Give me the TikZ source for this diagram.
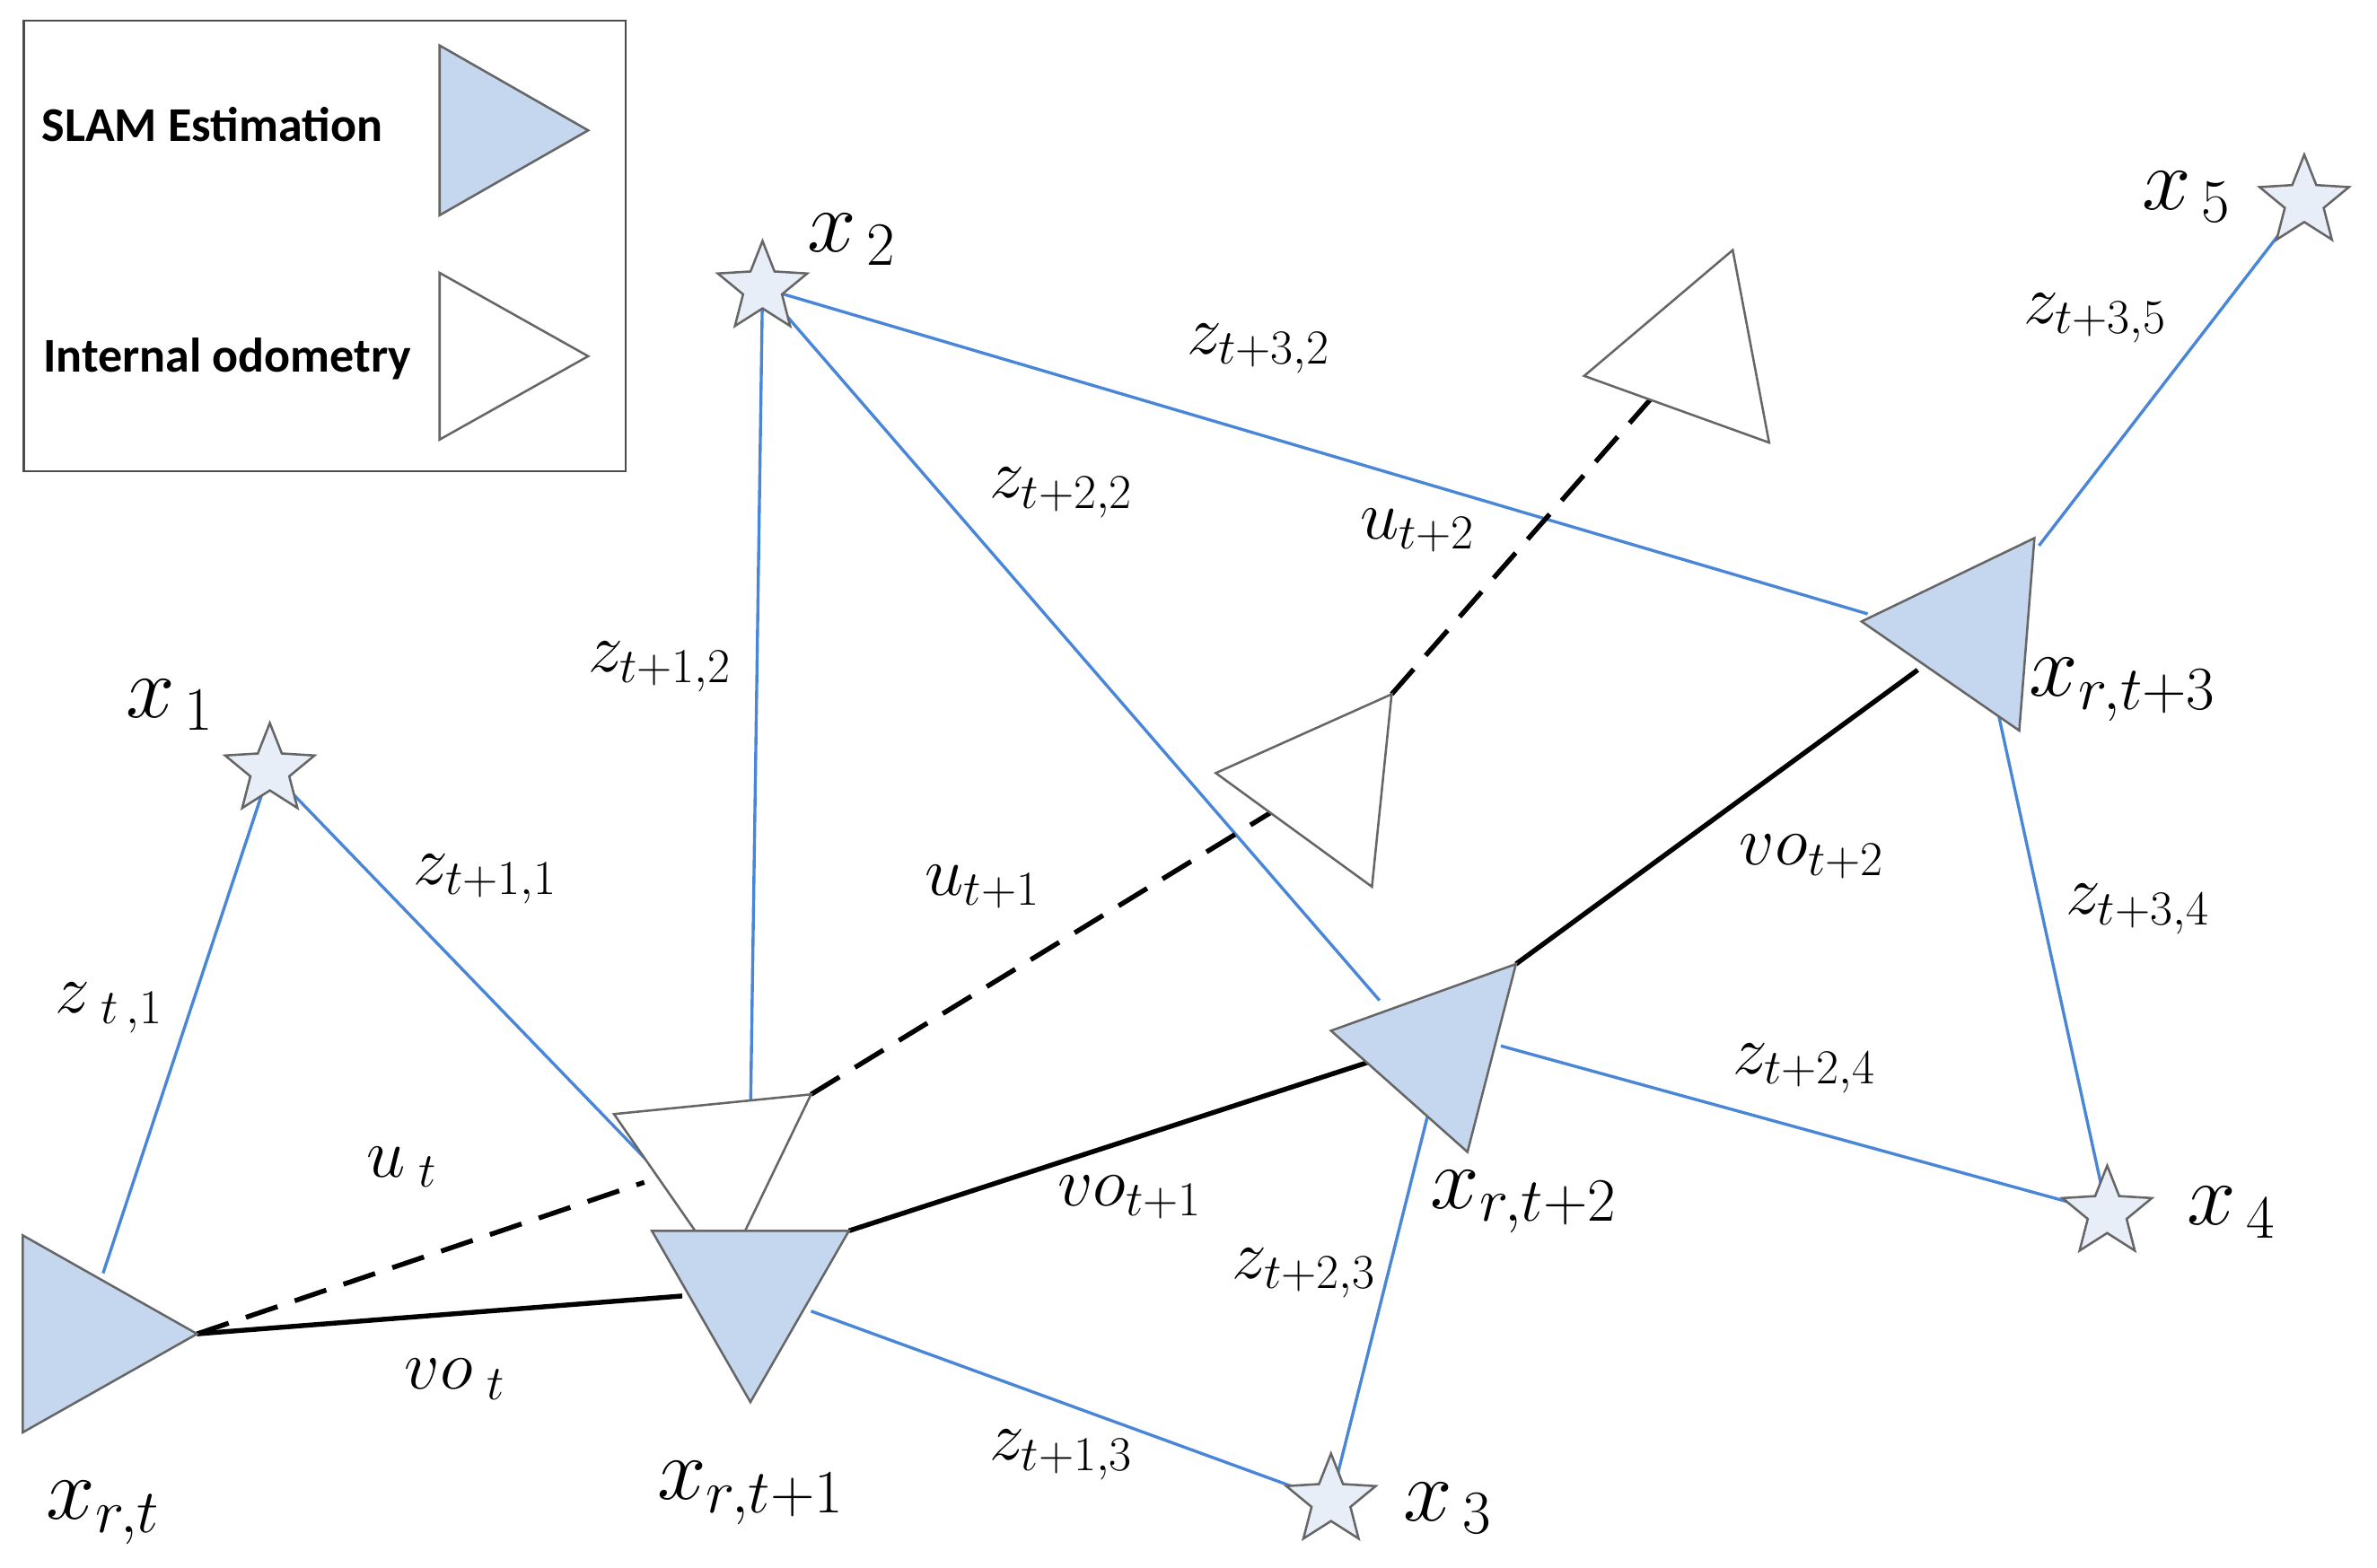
\documentclass[tikz,border=0pt]{standalone}
\usepackage{fix-cm}
\usepackage{fontspec}
\newfontfamily\legf{Carlito}
\usetikzlibrary{shapes.geometric}
\definecolor{lb}{HTML}{4A86D8}
\definecolor{fb}{HTML}{C5D7EE}
\definecolor{sf}{HTML}{E8EEF8}
\begin{document}
\begin{tikzpicture}[x=1pt,y=-1pt,
 blue/.style={lb,line width=2pt},
 blk/.style={black,line width=3.2pt},
 dsh/.style={black,line width=3.2pt,dash pattern=on 22pt off 12pt},
 ftri/.style={fill=fb,draw=gray!80!black,line width=1.5pt},
 wtri/.style={fill=white,draw=gray!80!black,line width=1.5pt},
 st/.style={star,star points=5,star point ratio=2.3,minimum size=62pt,inner sep=0,fill=sf,draw=gray!80!black,line width=1.5pt},
 lab/.style={font=\fontsize{46}{50}\selectfont,inner sep=0},
 xl/.style={font=\fontsize{58}{62}\selectfont,inner sep=0},
 lg/.style={font=\legf\bfseries\fontsize{32}{36}\selectfont}]
\useasboundingbox (0,0) rectangle (1568,1034);
% legend
\node[draw=black!70,line width=1.5pt,minimum width=397pt,minimum height=297pt,anchor=north west] (leg) at (15,13) {};
\node[lg] (l1) at (140,82) {SLAM Estimation};
\node[lg] (l2) at (150,237) {Internal odometry};
\draw[ftri] (290,30)--(290,142)--(388,86)--cycle;
\draw[wtri] (290,180)--(290,290)--(388,235)--cycle;
% coordinates
\coordinate (xrt) at (130,880);
\coordinate (xrtb) at (68,840);
\coordinate (t1a) at (460,800);
\coordinate (t1b) at (535,865);
\coordinate (t1L) at (450,855);
\coordinate (t1R) at (560,812);
\coordinate (w1a) at (425,780);
\coordinate (w1b) at (535,722);
\coordinate (w1t) at (495,740);
\coordinate (t2a) at (910,660);
\coordinate (t2b) at (942,735);
\coordinate (t2c) at (990,690);
\coordinate (t2L) at (905,700);
\coordinate (t2R) at (1000,636);
\coordinate (w2a) at (840,535);
\coordinate (w2b) at (918,458);
\coordinate (w3a) at (1090,262);
\coordinate (t3a) at (1232,405);
\coordinate (t3b) at (1318,470);
\coordinate (t3c) at (1345,360);
\coordinate (t3L) at (1265,442);
% lines
\draw[blue] (xrtb)--(178,508) coordinate (s1);
\draw[blue] (s1)--(t1a);
\draw[blue] (503,190) coordinate (s2)--(w1t);
\draw[blue] (s2)--(t2a);
\draw[blue] (s2)--(t3a);
\draw[blue] (t1b)--(878,990) coordinate (s3);
\draw[blue] (s3)--(t2b);
\draw[blue] (t2c)--(1390,800) coordinate (s4);
\draw[blue] (t3b)--(s4);
\draw[blue] (t3c)--(1520,133) coordinate (s5);
\draw[blk] (xrt)--(t1L);
\draw[blk] (t1R)--(t2L);
\draw[blk] (t2R)--(t3L);
\draw[dsh] (xrt)--(w1a);
\draw[dsh] (w1b)--(w2a);
\draw[dsh] (w2b)--(w3a);
% triangles
\draw[ftri] (15,815)--(15,945)--(130,880)--cycle;
\draw[wtri] (405,735)--(535,722)--(478,840)--cycle;
\draw[ftri] (430,812)--(560,812)--(495,925)--cycle;
\draw[wtri] (802,510)--(918,458)--(905,585)--cycle;
\draw[ftri] (878,680)--(1000,636)--(968,760)--cycle;
\draw[wtri] (1045,248)--(1143,165)--(1167,292)--cycle;
\draw[ftri] (1228,410)--(1342,355)--(1332,482)--cycle;
% stars
\node[st] (x1) at (s1) {};
\node[st] (x2) at (s2) {};
\node[st] (x3) at (s3) {};
\node[st] (x4) at (s4) {};
\node[st] (x5) at (s5) {};
% labels
\node[xl] at (112,465) {$x_{\,1}$};
\node[xl] at (562,158) {$x_{\,2}$};
\node[xl] at (955,995) {$x_{\,3}$};
\node[xl] at (1472,800) {$x_{\,4}$};
\node[xl] at (1442,130) {$x_{\,5}$};
\node[xl] at (68,998) {$x_{r,t}$};
\node[xl] at (495,985) {$x_{r,t+1}$};
\node[xl] at (1005,793) {$x_{r,t+2}$};
\node[xl] at (1400,455) {$x_{r,t+3}$};
\node[lab] at (72,665) {$z_{\;t\,,1}$};
\node[lab] at (320,580) {$z_{t+1,1}$};
\node[lab] at (435,440) {$z_{t+1,2}$};
\node[lab] at (700,325) {$z_{t+2,2}$};
\node[lab] at (830,230) {$z_{t+3,2}$};
\node[lab] at (1382,210) {$z_{t+3,5}$};
\node[lab] at (1410,600) {$z_{t+3,4}$};
\node[lab] at (1190,705) {$z_{t+2,4}$};
\node[lab] at (860,840) {$z_{t+2,3}$};
\node[lab] at (700,960) {$z_{t+1,3}$};
\node[lab] at (265,770) {$u_{\;t}$};
\node[lab] at (648,585) {$u_{t+1}$};
\node[lab] at (935,350) {$u_{t+2}$};
\node[lab] at (300,910) {$vo_{\;t}$};
\node[lab] at (745,790) {$vo_{t+1}$};
\node[lab] at (1195,565) {$vo_{t+2}$};
\end{tikzpicture}
\end{document}
